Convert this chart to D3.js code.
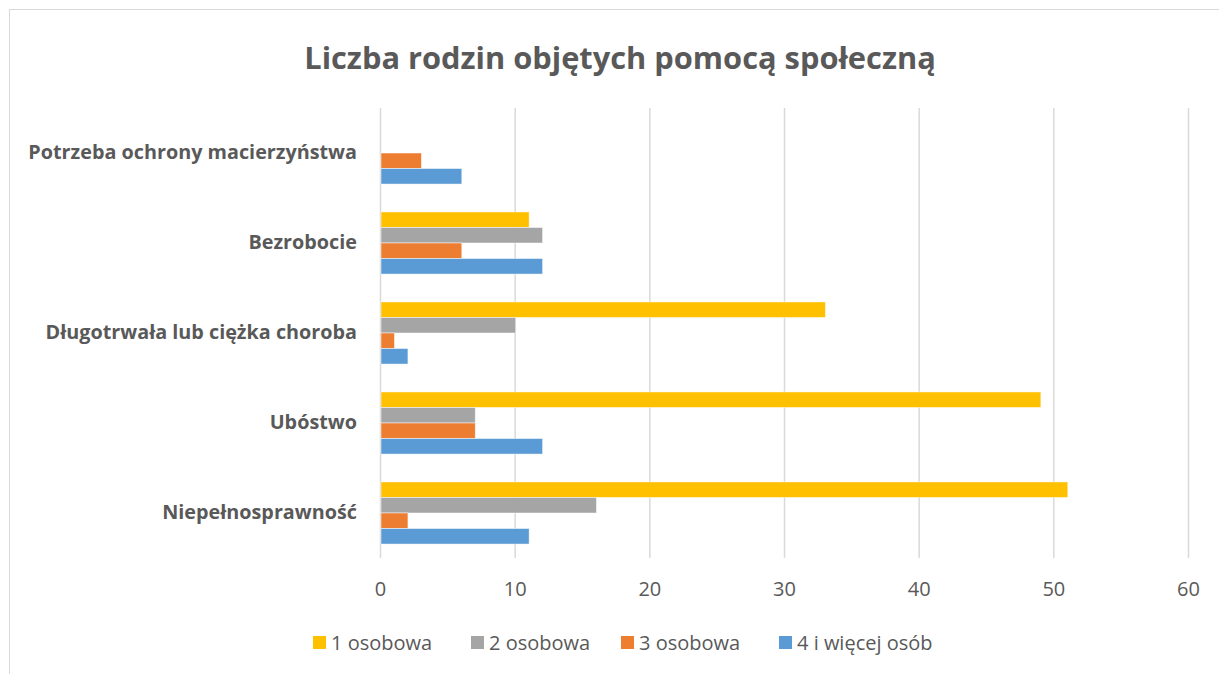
<!DOCTYPE html>
<html>
<head>
	<meta charset="utf-8">
	<script src="https://cdn.jsdelivr.net/npm/d3@7"></script>
	<title>Liczba rodzin objętych pomocą społeczną</title>
	<style>
		body { margin: 0; background: #fff; }
		text { font-family: "Open Sans", sans-serif; fill: #595959; }
	</style>
</head>
<body>
	<script>

	// categories, top to bottom as drawn
	var categories = ["Potrzeba ochrony macierzyństwa", "Bezrobocie", "Długotrwała lub ciężka choroba", "Ubóstwo", "Niepełnosprawność"];
	var seriesNames = ["1 osobowa", "2 osobowa", "3 osobowa", "4 i więcej osób"];
	var seriesColors = ["#FFC000", "#A5A5A5", "#ED7D31", "#5B9BD5"];

	var os1 = [0, 11, 33, 49, 51];
	var os2 = [0, 12, 10, 7, 16];
	var os3 = [3, 6, 1, 7, 2];
	var os4 = [6, 12, 2, 12, 11];
	var xTicks = [0, 10, 20, 30, 40, 50, 60];

	var seriesValues = [os1, os2, os3, os4];

	var widthSvg = 1219, heightSvg = 674;
	var plot = { left: 380, right: 1188, top: 108, bottom: 558 };

	var svg = d3.select("body").append("svg")
		.attr("width", widthSvg)
		.attr("height", heightSvg);

	// chart frame
	svg.append("rect")
		.attr("x", 9.5).attr("y", 9.5)
		.attr("width", 1260).attr("height", 700)
		.attr("fill", "none")
		.attr("stroke", "#d9d9d9");

	svg.append("text")
		.attr("x", 620).attr("y", 69)
		.attr("text-anchor", "middle")
		.attr("font-size", 30.8)
		.attr("font-weight", "bold")
		.text("Liczba rodzin objętych pomocą społeczną");

	var xScale = d3.scaleLinear().domain([0, 60]).range([plot.left, plot.right]);

	var yScale = d3.scaleBand()
		.domain(categories)
		.range([plot.top, plot.bottom])
		.paddingInner(0.31)
		.paddingOuter(0.155);

	var ySub = d3.scaleBand()
		.domain(seriesNames)
		.range([0, yScale.bandwidth()]);

	// gridlines
	svg.append("g").selectAll("line")
		.data(xTicks)
		.enter().append("line")
		.attr("x1", function(d) { return xScale(d) + 0.5; })
		.attr("x2", function(d) { return xScale(d) + 0.5; })
		.attr("y1", plot.top)
		.attr("y2", plot.bottom)
		.attr("stroke", "#d9d9d9")
		.attr("stroke-width", 1.5);

	// x axis tick labels
	var xAxis = d3.axisBottom(xScale).tickValues(xTicks).tickSize(0).tickPadding(24);
	var gx = svg.append("g")
		.attr("transform", "translate(0," + plot.bottom + ")")
		.call(xAxis);
	gx.select(".domain").remove();
	gx.selectAll("text")
		.attr("font-size", 20)
		.style("font-family", "'Open Sans', sans-serif")
		.attr("fill", "#595959");

	// category labels
	var yAxis = d3.axisLeft(yScale).tickSize(0).tickPadding(23);
	var gy = svg.append("g")
		.attr("transform", "translate(" + plot.left + ",0)")
		.call(yAxis);
	gy.select(".domain").remove();
	gy.selectAll("text")
		.attr("font-size", 19.8)
		.attr("font-weight", "bold")
		.style("font-family", "'Open Sans', sans-serif")
		.attr("fill", "#595959");

	// bars
	seriesNames.forEach(function(name, s) {
		var rows = seriesValues[s].map(function(v, i) { return { cat: categories[i], value: v }; })
			.filter(function(d) { return d.value > 0; });
		svg.append("g").selectAll("rect")
			.data(rows)
			.enter().append("rect")
			.attr("x", xScale(0) + 1)
			.attr("y", function(d) { return yScale(d.cat) + ySub(name); })
			.attr("width", function(d) { return xScale(d.value) - xScale(0); })
			.attr("height", ySub.bandwidth())
			.attr("fill", seriesColors[s])
			.attr("stroke", "#fff")
			.attr("stroke-width", 0.8)
			.attr("stroke-opacity", 0.6);
	});

	// legend
	var legendX = [313, 471, 621, 779];
	var legend = svg.append("g").selectAll("g")
		.data(seriesNames)
		.enter().append("g")
		.attr("transform", function(d, i) { return "translate(" + legendX[i] + ",636)"; });
	legend.append("rect")
		.attr("width", 13).attr("height", 13)
		.attr("fill", function(d, i) { return seriesColors[i]; });
	legend.append("text")
		.attr("x", 18).attr("y", 14)
		.attr("font-size", 20)
		.text(function(d) { return d; });

	</script>
</body>
</html>
